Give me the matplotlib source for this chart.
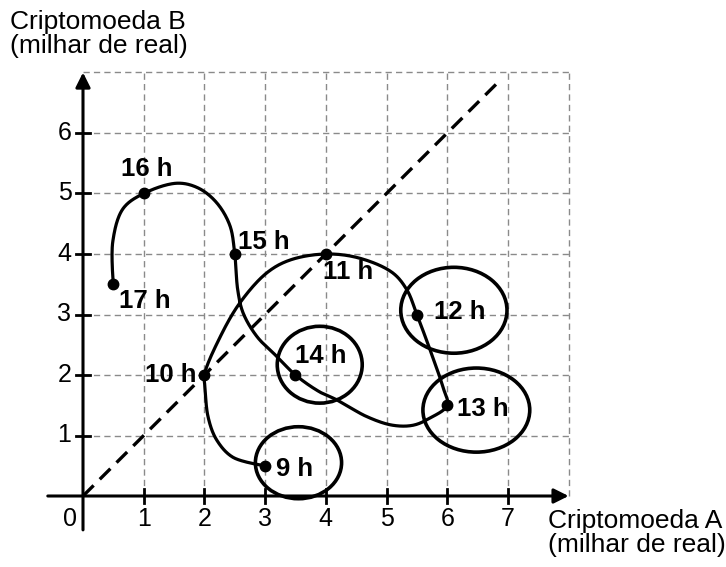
import numpy as np
import matplotlib
matplotlib.use('Agg')
import matplotlib.pyplot as plt
from matplotlib.patches import Ellipse

plt.rcParams['font.family'] = ['Liberation Sans', 'DejaVu Sans']

# horarios e valores (milhar de real)
hour_labels = ['9 h', '10 h', '11 h', '12 h', '13 h', '14 h', '15 h', '16 h', '17 h']
coin_a = [3.0, 2.0, 4.0, 5.5, 6.0, 3.5, 2.5, 1.0, 0.5]
coin_b = [0.5, 2.0, 4.0, 3.0, 1.5, 2.0, 4.0, 5.0, 3.5]

# pontos lidos ao longo da curva (inclui os horarios)
path_a = [3.0, 2.47, 2.2, 2.06, 2.01, 2.0, 2.26, 2.59, 3.03, 3.41, 4.0, 4.56, 5.1,
          5.34, 5.5, 5.72, 5.93, 6.0, 5.72, 5.44, 5.1, 4.68, 4.18, 3.9, 3.5, 3.2,
          2.87, 2.64, 2.55, 2.5, 2.42, 2.2, 1.9, 1.55, 1.0, 0.66, 0.49, 0.5]
path_b = [0.5, 0.64, 0.93, 1.31, 1.8, 2.0, 2.63, 3.2, 3.69, 3.9, 4.0, 3.93, 3.69,
          3.4, 3.0, 2.41, 1.8, 1.5, 1.29, 1.17, 1.17, 1.31, 1.59, 1.72, 2.0, 2.3,
          2.63, 3.02, 3.4, 4.0, 4.47, 4.85, 5.09, 5.17, 5.0, 4.75, 4.2, 3.5]

# circulos em volta de alguns horarios
ring_a = [3.55, 3.9, 6.11, 6.48]
ring_b = [0.55, 2.17, 3.07, 1.42]
ring_w = [1.42, 1.40, 1.75, 1.76]
ring_h = [1.19, 1.27, 1.42, 1.39]

# posicao dos rotulos (centro)
label_a = [3.49, 1.45, 4.37, 6.21, 6.59, 3.92, 2.98, 1.05, 1.02]
label_b = [0.45, 2.0, 3.7, 3.04, 1.44, 2.31, 4.2, 5.4, 3.22]

x_ticks = [1, 2, 3, 4, 5, 6, 7]
y_ticks = [1, 2, 3, 4, 5, 6]


def catmull_rom(xs, ys, n=24):
    """curva suave passando pelos pontos"""
    p = np.column_stack([xs, ys]).astype(float)
    p = np.vstack([p[0], p, p[-1]])
    out = []
    for i in range(1, len(p) - 2):
        p0, p1, p2, p3 = p[i - 1], p[i], p[i + 1], p[i + 2]
        t0 = 0.0
        t1 = t0 + max(np.linalg.norm(p1 - p0), 1e-6) ** 0.5
        t2 = t1 + max(np.linalg.norm(p2 - p1), 1e-6) ** 0.5
        t3 = t2 + max(np.linalg.norm(p3 - p2), 1e-6) ** 0.5
        for t in np.linspace(t1, t2, n, endpoint=False):
            a1 = (t1 - t) / (t1 - t0) * p0 + (t - t0) / (t1 - t0) * p1
            a2 = (t2 - t) / (t2 - t1) * p1 + (t - t1) / (t2 - t1) * p2
            a3 = (t3 - t) / (t3 - t2) * p2 + (t - t2) / (t3 - t2) * p3
            b1 = (t2 - t) / (t2 - t0) * a1 + (t - t0) / (t2 - t0) * a2
            b2 = (t3 - t) / (t3 - t1) * a2 + (t - t1) / (t3 - t1) * a3
            out.append((t2 - t) / (t2 - t1) * b1 + (t - t1) / (t2 - t1) * b2)
    out.append(p[-1])
    out = np.array(out)
    return out[:, 0], out[:, 1]


fig = plt.figure(figsize=(7.26, 5.67), dpi=100)
ax = fig.add_axes([0, 0, 1, 1])
ax.set_xlim(-83 / 60.7, (726 - 83) / 60.7)
ax.set_ylim(-(567 - 496) / 60.5, 496 / 60.5)
ax.axis('off')

# grade tracejada
for gx in range(1, 9):
    ax.plot([gx, gx], [0, 7], color='#8a8a8a', lw=1.0, ls=(0, (4.5, 3)), zorder=1)
for gy in range(1, 8):
    ax.plot([0, 8], [gy, gy], color='#8a8a8a', lw=1.0, ls=(0, (4.5, 3)), zorder=1)

# diagonal
ax.plot([0, 6.9], [0, 6.9], color='black', lw=2.4, ls=(0, (4.5, 2.6)), zorder=2)

# eixos com setas
arrow = dict(arrowstyle='-|>', lw=2.2, color='black', mutation_scale=22, shrinkA=0, shrinkB=0)
ax.annotate('', xy=(8.0, 0), xytext=(-0.58, 0), arrowprops=arrow, zorder=3)
ax.annotate('', xy=(0, 7.0), xytext=(0, -0.56), arrowprops=arrow, zorder=3)
for t in x_ticks:
    ax.plot([t, t], [-0.11, 0.11], color='black', lw=2.0, zorder=3)
    ax.text(t, -0.38, str(t), ha='center', va='center', fontsize=18)
for t in y_ticks:
    ax.plot([-0.12, 0.11], [t, t], color='black', lw=2.0, zorder=3)
    ax.text(-0.19, t, str(t), ha='right', va='center', fontsize=18)
ax.text(-0.21, -0.38, '0', ha='center', va='center', fontsize=18)

# curva
cx, cy = catmull_rom(path_a, path_b)
ax.plot(cx, cy, color='black', lw=2.3, solid_capstyle='round', zorder=4)
ax.plot(coin_a, coin_b, 'o', color='black', markersize=7.5, zorder=5)

for ex, ey, ew, eh in zip(ring_a, ring_b, ring_w, ring_h):
    ax.add_patch(Ellipse((ex, ey), ew, eh, fill=False, lw=2.6, ec='black', zorder=4))

for lab, lx, ly in zip(hour_labels, label_a, label_b):
    ax.text(lx, ly, lab, ha='center', va='center', fontsize=18.5, fontweight='bold', zorder=6)

ax.text(-83 / 60.7 + 10 / 60.7, 8.03, 'Criptomoeda B\n(milhar de real)', ha='left', va='top',
        fontsize=19, linespacing=1.0)
ax.text(7.66, -0.21, 'Criptomoeda A\n(milhar de real)', ha='left', va='top',
        fontsize=19, linespacing=1.0)

fig.savefig('out.png', dpi=100)
